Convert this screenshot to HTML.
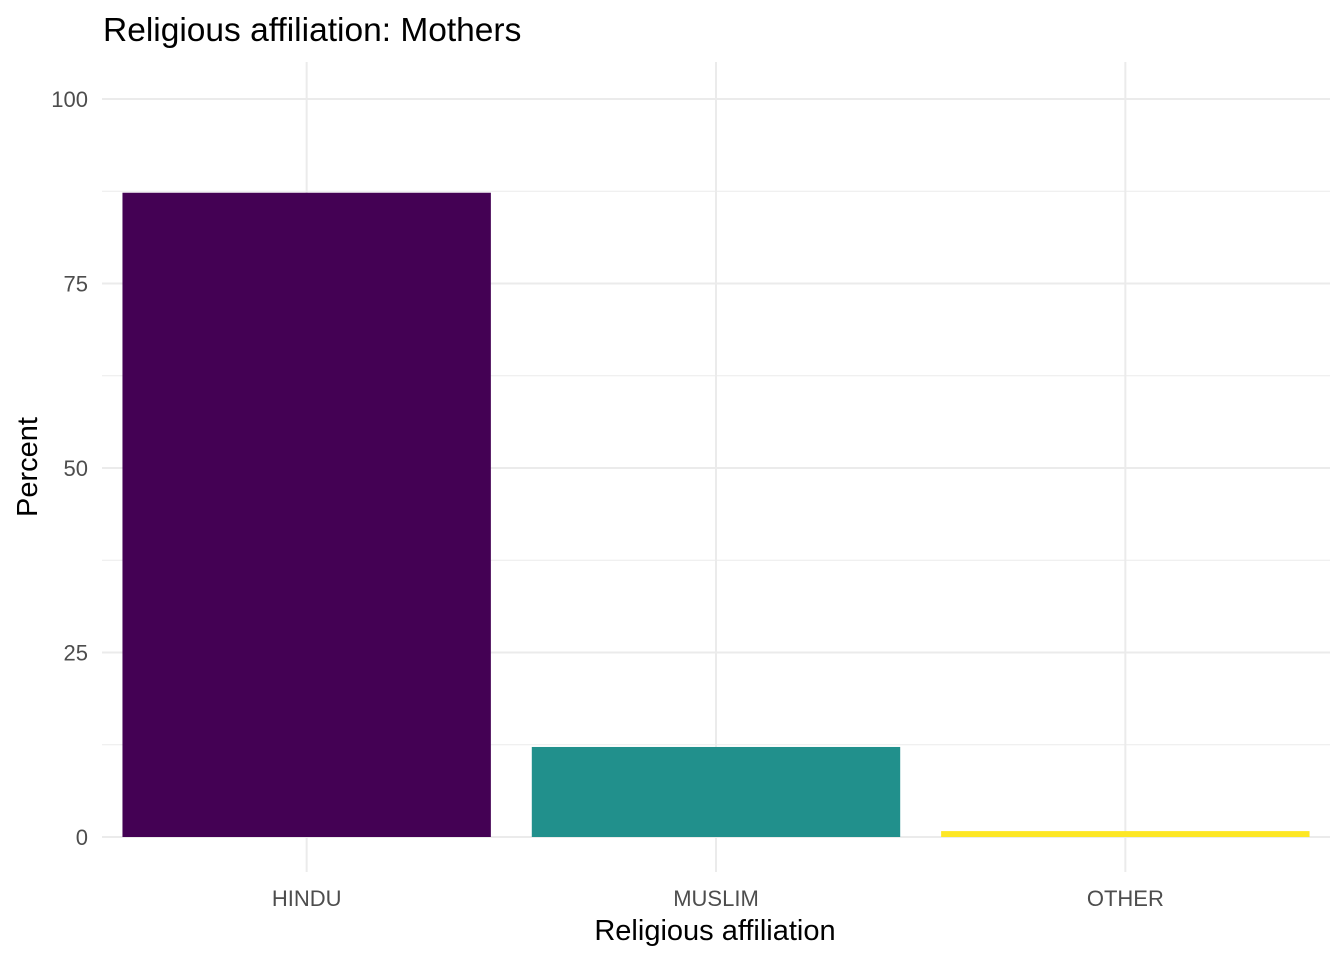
<!DOCTYPE html>
<html><head><meta charset="utf-8"><style>
html,body{margin:0;padding:0;background:#fff;}
svg{display:block;font-family:"Liberation Sans",Arial,sans-serif;}
</style></head><body>
<svg id="chart" width="1344" height="960" viewBox="0 0 1344 960">
<text x="103" y="41" font-size="33.5" fill="#000">Religious affiliation: Mothers</text>
<g id="grid"></g>
<g id="bars"></g>
<g id="axes"></g>
<text x="715" y="940" font-size="29" text-anchor="middle" fill="#000">Religious affiliation</text>
<text transform="translate(37,467) rotate(-90)" font-size="29" text-anchor="middle" fill="#000">Percent</text>
</svg>
<script>
const categories = ["HINDU","MUSLIM","OTHER"];
const percents = [87.3, 12.2, 0.8];
const colors = ["#440154","#21908C","#FDE725"];
const yTicks = [0,25,50,75,100];
const yTickLabels = ["0","25","50","75","100"];

const NS="http://www.w3.org/2000/svg";
const panelLeft=102,panelRight=1330,panelTop=62,panelBottom=872;
const y0px=837,y100px=99;
function yScale(v){return y0px-(y0px-y100px)*v/100;}
const band=(panelRight-panelLeft)/categories.length;
function xc(i){return panelLeft+band*(i+0.5);}
const bw=band*0.9;
function mk(tag,attrs,parent){const e=document.createElementNS(NS,tag);for(const k in attrs)e.setAttribute(k,attrs[k]);parent.appendChild(e);return e;}
const grid=document.getElementById('grid'),bars=document.getElementById('bars'),axes=document.getElementById('axes');
for(let i=0;i<yTicks.length-1;i++){
  const v=(yTicks[i]+yTicks[i+1])/2;
  const l=mk('line',{x1:panelLeft,x2:panelRight,y1:yScale(v),y2:yScale(v),stroke:'#ebebeb','stroke-width':1},grid);
  
  
}
yTicks.forEach((v,i)=>{
  const l=mk('line',{x1:panelLeft,x2:panelRight,y1:yScale(v),y2:yScale(v),stroke:'#ebebeb','stroke-width':2},grid);
  
  
  const t=mk('text',{x:88,y:yScale(v)+8,'font-size':22,'text-anchor':'end',fill:'#4d4d4d'},axes);
  t.textContent=yTickLabels[i];
  
  
});
categories.forEach((c,i)=>{
  const l=mk('line',{x1:xc(i),x2:xc(i),y1:panelTop,y2:panelBottom,stroke:'#ebebeb','stroke-width':2},grid);
  
  
  const r=mk('rect',{x:xc(i)-bw/2,y:yScale(percents[i]),width:bw,height:yScale(0)-yScale(percents[i]),fill:colors[i]},bars);
  
  
  const t=mk('text',{x:xc(i),y:906,'font-size':22,'text-anchor':'middle',fill:'#4d4d4d'},axes);
  t.textContent=c;
  
  
});
</script>
</body></html>
